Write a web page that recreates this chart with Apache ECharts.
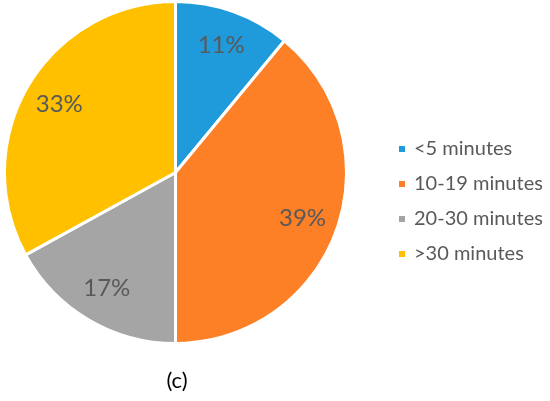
<!DOCTYPE html>
<html>
<head>
<meta charset="utf-8">
<script src="https://cdn.jsdelivr.net/npm/echarts@6/dist/echarts.min.js"></script>
<style>
  html, body { margin: 0; padding: 0; background: #fff; }
  #myChart { width: 550px; height: 401px; }
</style>
</head>
<body>
<div id="myChart"></div>
<script>
// chart data
var categories = ["<5 minutes", "10-19 minutes", "20-30 minutes", ">30 minutes"];
var shares = [11, 39, 17, 33];
var sliceColors = ["#1F9BDB", "#FD7F26", "#A5A5A5", "#FFC000"];
var caption = "(c)";

var pieData = categories.map(function (name, i) {
  return { name: name, value: shares[i], itemStyle: { color: sliceColors[i] } };
});

var chartInst = echarts.init(document.getElementById("myChart"));
chartInst.setOption({
  animation: false,
  title: {
    text: caption,
    left: 177,
    top: 370,
    padding: 0,
    textAlign: "center",
    textStyle: { color: "#000", fontSize: 22, fontWeight: "normal", fontFamily: "Lato" }
  },
  legend: {
    orient: "vertical",
    left: 397,
    top: 139,
    padding: 0,
    itemWidth: 8,
    itemHeight: 8,
    itemGap: 15,
    icon: "rect",
    data: categories,
    textStyle: { color: "#595959", fontSize: 20, lineHeight: 20, fontFamily: "Lato", padding: [0, 0, 0, 3] }
  },
  series: [
    {
      // slices
      type: "pie",
      center: [175.5, 172.5],
      radius: [0, 171],
      startAngle: 90,
      clockwise: true,
      silent: true,
      label: { show: false },
      labelLine: { show: false },
      itemStyle: { borderColor: "#fff", borderWidth: 3 },
      data: pieData
    },
    {
      // transparent ring that only carries the labels
      type: "pie",
      center: [175.5, 172.5],
      radius: [94, 170],
      startAngle: 90,
      clockwise: true,
      silent: true,
      legendHoverLink: false,
      itemStyle: { color: "transparent" },
      label: {
        show: true,
        position: "inside",
        formatter: "{c}%",
        color: "#595959",
        fontSize: 24,
        fontFamily: "Lato"
      },
      data: shares.map(function (v, i) {
        return { name: categories[i] + " ", value: v };
      })
    }
  ]
});
</script>
</body>
</html>
